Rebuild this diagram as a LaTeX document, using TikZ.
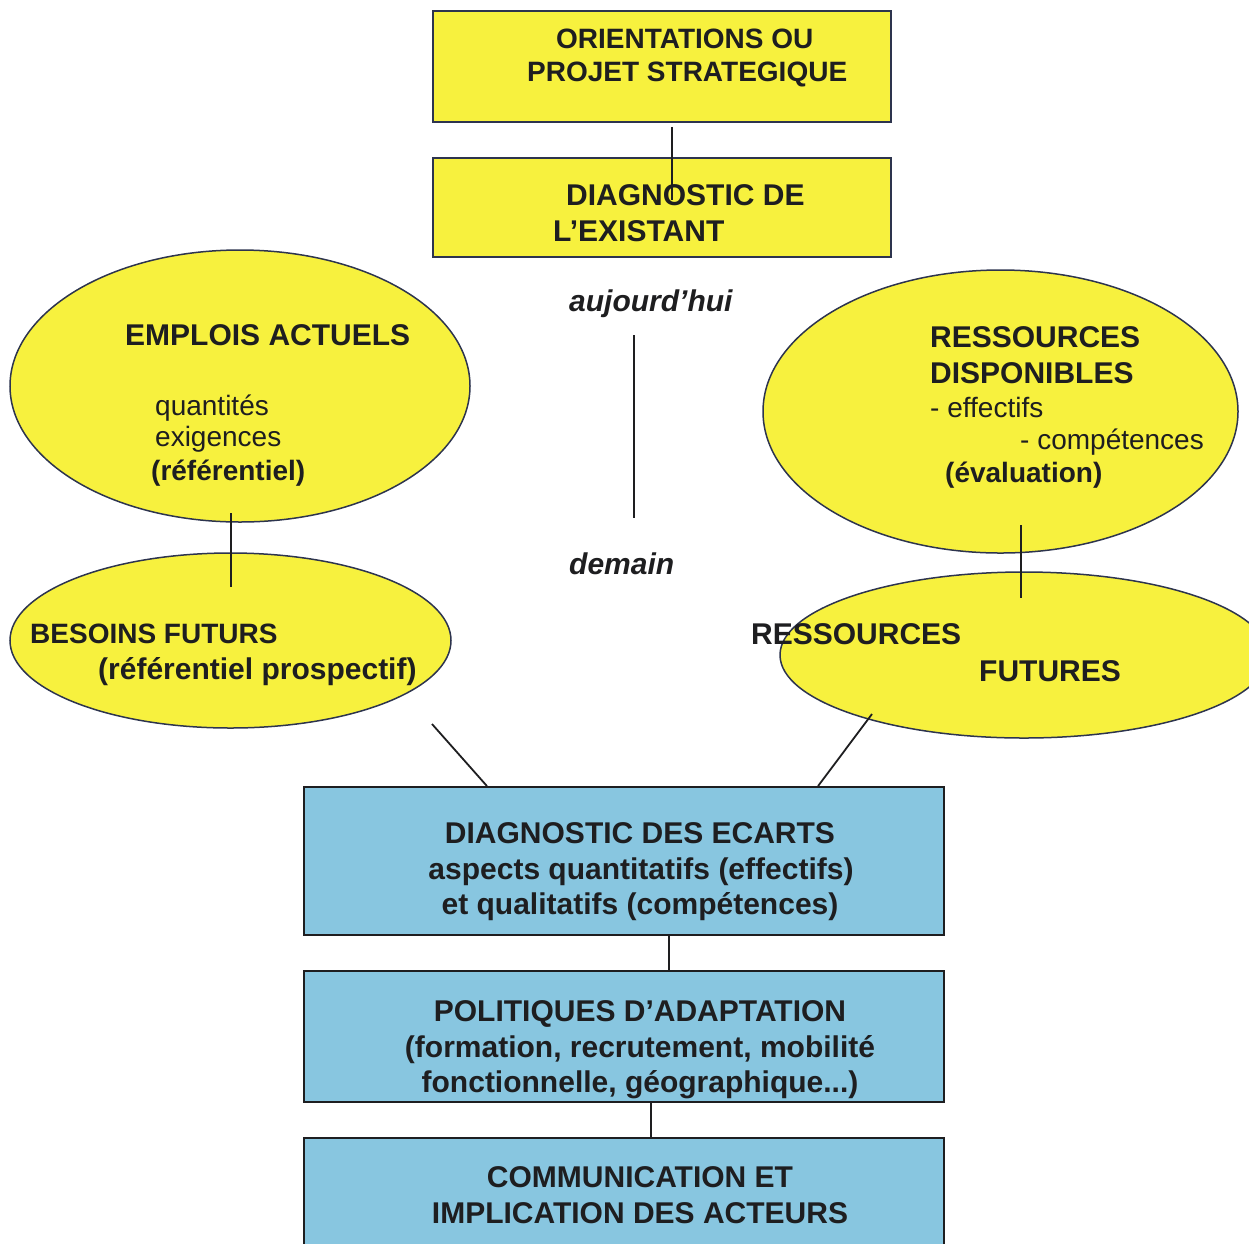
\documentclass[tikz,border=0pt]{standalone}
\usepackage{fontspec}
\setmainfont{Liberation Sans}
\usetikzlibrary{shapes.geometric}

\definecolor{gelb}{RGB}{247,241,62}
\definecolor{bleu}{RGB}{136,198,224}
\definecolor{bord}{RGB}{45,52,78}
\definecolor{encre}{RGB}{30,30,32}

\begin{document}
\begin{tikzpicture}[
    x=1pt, y=-1pt,
    ybox/.style={draw=bord, line width=1.6pt, fill=gelb, minimum width=458pt, inner sep=0pt},
    bbox/.style={draw=encre, line width=1.8pt, fill=bleu, minimum width=640pt, inner sep=0pt},
    oval/.style={ellipse, draw=bord, line width=1.5pt, fill=gelb, inner sep=0pt},
    link/.style={draw=encre, line width=1.8pt},
    hd/.style={text=encre, inner sep=0pt, anchor=base west, font=\fontsize{30}{36}\selectfont\bfseries},
    hds/.style={hd, font=\fontsize{28}{33}\selectfont\bfseries},
    rg/.style={hd, font=\fontsize{28}{33}\selectfont},
    tm/.style={hd, font=\fontsize{30}{36}\selectfont\bfseries\itshape},
    bl/.style={hd, anchor=base}]

      \useasboundingbox (0,0) rectangle (1249,1243);

      % yellow boxes
      \node[ybox, minimum height=111pt] (orient) at (662,66.5) {};
      \node[ybox, minimum height=99pt] (exist) at (662,207.5) {};

      % ellipses
      \node[oval, minimum width=460pt, minimum height=272pt] (emplois) at (240,386) {};
      \node[oval, minimum width=441pt, minimum height=175pt] (besoins) at (230.5,640.5) {};
      \node[oval, minimum width=475pt, minimum height=283pt] (dispo) at (1000.5,411.5) {};
      \node[oval, minimum width=488pt, minimum height=166pt] (futures) at (1024,655) {};

      % blue boxes
      \node[bbox, minimum height=148pt] (ecarts) at (624,861) {};
      \node[bbox, minimum height=131pt] (adapt) at (624,1036.5) {};
      \node[bbox, minimum height=122pt] (acteurs) at (624,1199) {};

      % free ends
      \coordinate (k1) at (672,200);
      \coordinate (t1) at (634,335);
      \coordinate (t2) at (634,518);
      \coordinate (e1) at (231,513);
      \coordinate (e2) at (231,587);
      \coordinate (r1) at (1021,525);
      \coordinate (r2) at (1021,598);
      \coordinate (d1) at (432,724);
      \coordinate (d2) at (872,714);

      \draw[link] ([yshift=-4pt]orient.south -| k1) -- (k1);
      \draw[link] (t1) -- (t2);
      \draw[link] (e1) -- (e2);
      \draw[link] (r1) -- (r2);
      \draw[link] (d1) -- ([xshift=-137pt]ecarts.north);
      \draw[link] (d2) -- ([xshift=194pt]ecarts.north);
      \draw[link] ([xshift=45pt]ecarts.south) -- ([xshift=45pt]adapt.north);
      \draw[link] ([xshift=27pt]adapt.south) -- ([xshift=27pt]acteurs.north);

      % top texts
      \node[hds] (o1) at (556,48) {ORIENTATIONS OU};
      \node[hds] (o2) at (527,81) {PROJET STRATEGIQUE};
      \node[hd] (x1) at (566,205) {DIAGNOSTIC DE};
      \node[hd] (x2) at (553,241) {L’EXISTANT};

      \node[tm] (auj) at (569,311) {aujourd’hui};
      \node[tm] (dem) at (569,574) {demain};

      % left ellipses
      \node[hd] (ea) at (125,345) {EMPLOIS ACTUELS};
      \node[rg] (ea1) at (155,415) {quantités};
      \node[rg] (ea2) at (155,446) {exigences};
      \node[hds] (ea3) at (151,480) {(référentiel)};
      \node[hds] (bf) at (30,643) {BESOINS FUTURS};
      \node[hd] (bf1) at (98,679) {(référentiel prospectif)};

      % right ellipses
      \node[hd] (rd1) at (930,347) {RESSOURCES};
      \node[hd] (rd2) at (930,383) {DISPONIBLES};
      \node[rg] (rd3) at (930,417) {- effectifs};
      \node[rg] (rd4) at (1020,449) {- compétences};
      \node[hds] (rd5) at (945,482) {(évaluation)};
      \node[hd] (rf1) at (751,644) {RESSOURCES};
      \node[hd] (rf2) at (979,681) {FUTURES};

      % blue texts
      \node[bl] (c1) at (640,843) {DIAGNOSTIC DES ECARTS};
      \node[bl] (c2) at (641,879) {aspects quantitatifs (effectifs)};
      \node[bl] (c3) at (640,914) {et qualitatifs (compétences)};
      \node[bl] (p1) at (640,1021) {POLITIQUES D’ADAPTATION};
      \node[bl] (p2) at (640,1057) {(formation, recrutement, mobilité};
      \node[bl] (p3) at (640,1092) {fonctionnelle, géographique...)};
      \node[bl] (a1) at (640,1187) {COMMUNICATION ET};
      \node[bl] (a2) at (640,1223) {IMPLICATION DES ACTEURS};

\end{tikzpicture}
\end{document}
